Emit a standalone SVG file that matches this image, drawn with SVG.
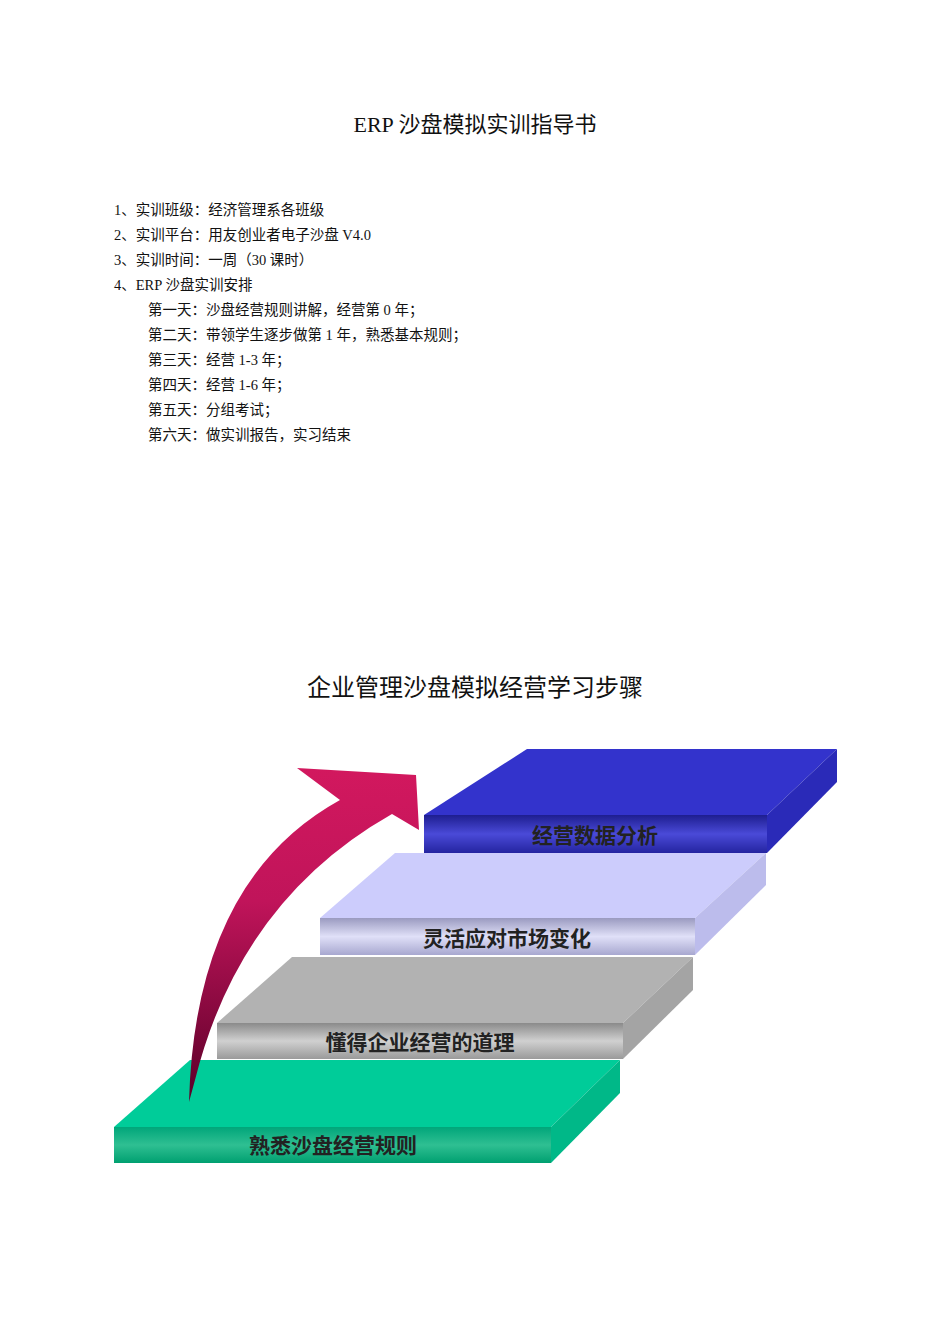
<svg xmlns="http://www.w3.org/2000/svg" width="950" height="1344" viewBox="0 0 950 1344">
<style>
text{font-family:"Liberation Serif","Noto Sans CJK SC",serif;fill:#111}
.b{font-size:14.5px}
.s{font-size:21px;font-weight:bold;fill:#222}
</style>
<defs>
<linearGradient id="ar" x1="0" y1="1" x2="0" y2="0"><stop offset="0" stop-color="#5a0028"/><stop offset="0.6" stop-color="#c0145a"/><stop offset="1" stop-color="#d2185e"/></linearGradient>
<linearGradient id="fg" x1="0" y1="0" x2="0" y2="1"><stop offset="0" stop-color="#00a67a"/><stop offset="0.5" stop-color="#2fbf92"/><stop offset="1" stop-color="#00a070"/></linearGradient>
<linearGradient id="fy" x1="0" y1="0" x2="0" y2="1"><stop offset="0" stop-color="#8a8a8a"/><stop offset="0.5" stop-color="#d0d0d0"/><stop offset="1" stop-color="#9a9a9a"/></linearGradient>
<linearGradient id="fl" x1="0" y1="0" x2="0" y2="1"><stop offset="0" stop-color="#9a9ac0"/><stop offset="0.5" stop-color="#e0e0f8"/><stop offset="1" stop-color="#a8a8d0"/></linearGradient>
<linearGradient id="fb" x1="0" y1="0" x2="0" y2="1"><stop offset="0" stop-color="#1e1e90"/><stop offset="0.5" stop-color="#4a4ad8"/><stop offset="1" stop-color="#2424a0"/></linearGradient>
</defs>
<text x="475" y="132" text-anchor="middle" font-size="22">ERP 沙盘模拟实训指导书</text>
<g class="b">
<text x="114" y="215">1、实训班级：经济管理系各班级</text>
<text x="114" y="240">2、实训平台：用友创业者电子沙盘 V4.0</text>
<text x="114" y="265">3、实训时间：一周（30 课时）</text>
<text x="114" y="290">4、ERP 沙盘实训安排</text>
<text x="148" y="315">第一天：沙盘经营规则讲解，经营第 0 年；</text>
<text x="148" y="340">第二天：带领学生逐步做第 1 年，熟悉基本规则；</text>
<text x="148" y="365">第三天：经营 1-3 年；</text>
<text x="148" y="390">第四天：经营 1-6 年；</text>
<text x="148" y="415">第五天：分组考试；</text>
<text x="148" y="440">第六天：做实训报告，实习结束</text>
</g>
<text x="475" y="696" text-anchor="middle" font-size="24">企业管理沙盘模拟经营学习步骤</text>
<g id="step1">
<polygon points="114,1127 190,1060 620,1060 551,1127" fill="#00cc99"/>
<polygon points="551,1127 620,1060 620,1093 551,1163" fill="#00b888"/>
<rect x="114" y="1127" width="437" height="36" fill="url(#fg)"/>
<text class="s" x="333" y="1153" text-anchor="middle">熟悉沙盘经营规则</text>
</g>
<g id="step2">
<polygon points="217,1023 292,957 693,957 623,1023" fill="#b2b2b2"/>
<polygon points="623,1023 693,957 693,990 623,1059" fill="#a4a4a4"/>
<rect x="217" y="1023" width="406" height="36" fill="url(#fy)"/>
<text class="s" x="420" y="1050" text-anchor="middle">懂得企业经营的道理</text>
</g>
<g id="step3">
<polygon points="320,918 395,853 766,853 695,918" fill="#ccccfc"/>
<polygon points="695,918 766,853 766,885 695,955" fill="#bcbcec"/>
<rect x="320" y="918" width="375" height="37" fill="url(#fl)"/>
<text class="s" x="507" y="946" text-anchor="middle">灵活应对市场变化</text>
</g>
<g id="step4">
<polygon points="424,815 527,749 837,749 767,815" fill="#3333cc"/>
<polygon points="767,815 837,749 837,782 767,853" fill="#2a2ab8"/>
<rect x="424" y="815" width="343" height="38" fill="url(#fb)"/>
<text class="s" x="595" y="843" text-anchor="middle">经营数据分析</text>
</g>
<g id="connectors">
<path d="M189,1102 Q195,880 340,800 L297,768 L416,775 L419,830 L392,814 Q240,900 195,1080 Z" fill="url(#ar)"/>
</g>
</svg>
